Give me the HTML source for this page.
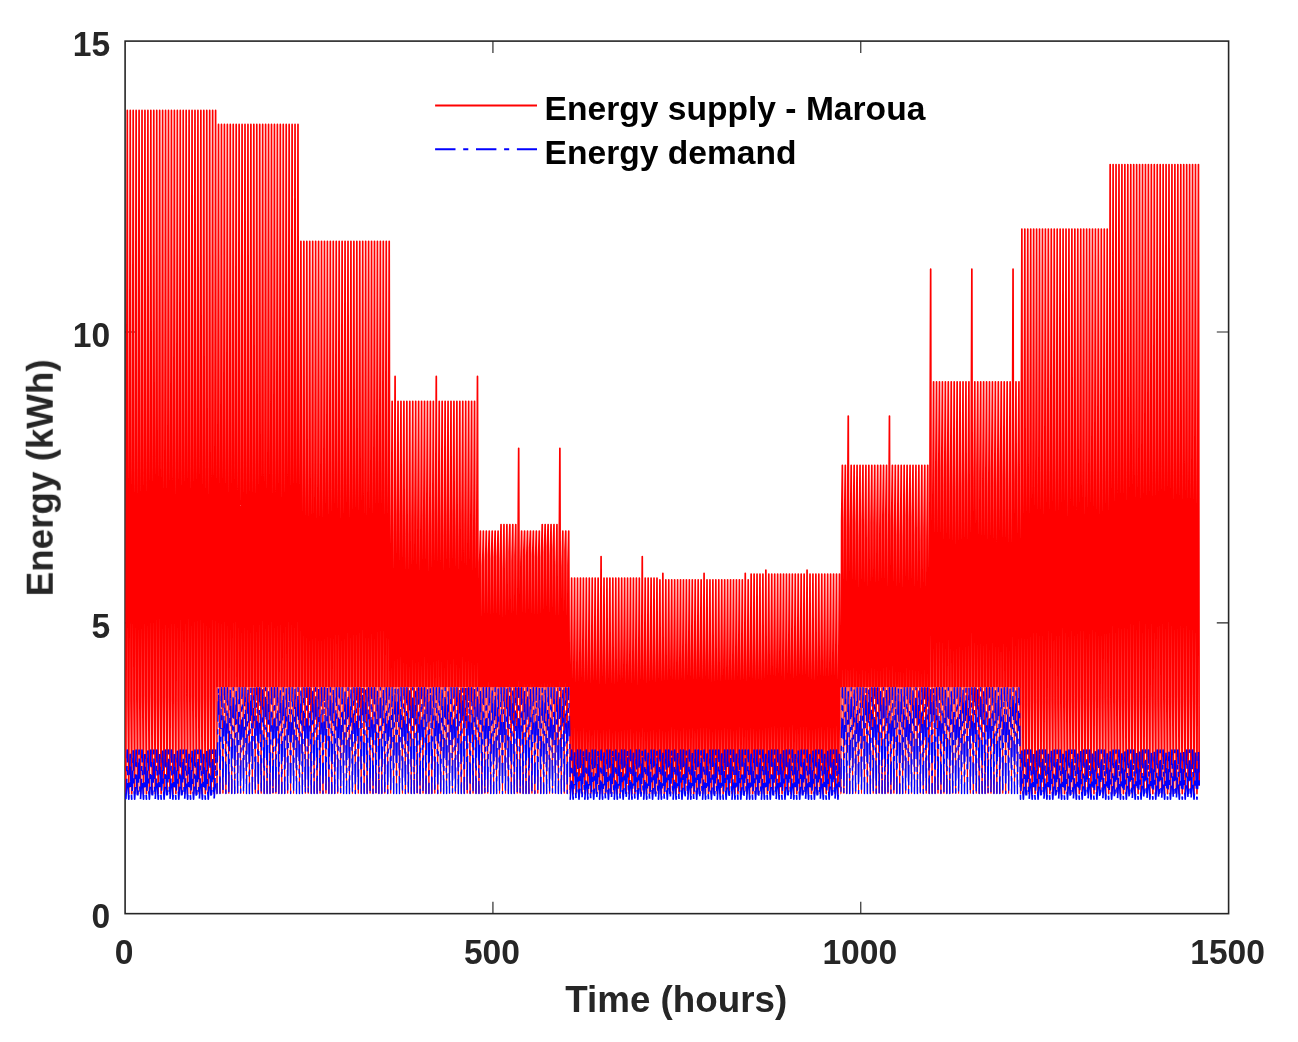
<!DOCTYPE html>
<html lang="en"><head><meta charset="utf-8"><title>Energy supply vs demand - Maroua</title>
<style>html,body{margin:0;padding:0;background:#fff}svg{display:block}.t{font-family:"Liberation Sans",sans-serif;font-weight:bold}</style></head>
<body>
<svg width="1298" height="1042" viewBox="0 0 1298 1042">
<rect width="1298" height="1042" fill="#fff"/>
<rect x="125.10" y="41.10" width="1103.50" height="872.55" fill="none" stroke="#262626" stroke-width="1.6"/>
<path d="M492.93 913.65v-11.8 M492.93 41.10v11.8" stroke="#262626" stroke-width="1.15"/>
<path d="M860.77 913.65v-11.8 M860.77 41.10v11.8" stroke="#262626" stroke-width="1.15"/>
<path d="M125.10 622.80h11.8 M1228.60 622.80h-11.8" stroke="#262626" stroke-width="1.15"/>
<path d="M125.10 331.95h11.8 M1228.60 331.95h-11.8" stroke="#262626" stroke-width="1.15"/>
<defs><clipPath id="ca"><rect x="0.00" y="0" width="216.69" height="1042"/><rect x="216.69" y="0" width="82.39" height="687.60"/><rect x="299.09" y="0" width="91.22" height="687.60"/><rect x="390.31" y="0" width="88.28" height="687.60"/><rect x="478.59" y="0" width="91.22" height="687.60"/><rect x="569.81" y="0" width="88.28" height="1042"/><rect x="658.09" y="0" width="91.22" height="1042"/><rect x="749.31" y="0" width="91.22" height="1042"/><rect x="840.54" y="0" width="88.28" height="687.60"/><rect x="928.82" y="0" width="91.22" height="687.60"/><rect x="1020.04" y="0" width="88.28" height="1042"/><rect x="1108.32" y="0" width="189.68" height="1042"/></clipPath><clipPath id="cb"><rect x="216.69" y="687.60" width="82.39" height="354.40"/><rect x="299.09" y="687.60" width="91.22" height="354.40"/><rect x="390.31" y="687.60" width="88.28" height="354.40"/><rect x="478.59" y="687.60" width="91.22" height="354.40"/><rect x="840.54" y="687.60" width="88.28" height="354.40"/><rect x="928.82" y="687.60" width="91.22" height="354.40"/></clipPath><clipPath id="cl"><rect x="0.00" y="0" width="216.69" height="1042"/><rect x="569.81" y="0" width="88.28" height="1042"/><rect x="658.09" y="0" width="91.22" height="1042"/><rect x="749.31" y="0" width="91.22" height="1042"/><rect x="1020.04" y="0" width="88.28" height="1042"/><rect x="1108.32" y="0" width="189.68" height="1042"/></clipPath><clipPath id="ch"><rect x="216.69" y="0" width="82.39" height="1042"/><rect x="299.09" y="0" width="91.22" height="1042"/><rect x="390.31" y="0" width="88.28" height="1042"/><rect x="478.59" y="0" width="91.22" height="1042"/><rect x="840.54" y="0" width="88.28" height="1042"/><rect x="928.82" y="0" width="91.22" height="1042"/></clipPath>
<polyline id="rl" fill="none" stroke-linejoin="round" points="125.84,793.53 126.57,477.75 127.31,110.44 128.04,702.25 128.78,793.53 129.51,467.24 130.25,110.44 130.99,702.99 131.72,793.53 132.46,470.93 133.19,110.44 133.93,700.21 134.66,793.53 135.40,486.29 136.13,110.44 136.87,698.87 137.61,793.53 138.34,486.95 139.08,110.44 139.81,699.57 140.55,793.53 141.28,485.91 142.02,110.44 142.76,702.82 143.49,793.53 144.23,474.51 144.96,110.44 145.70,695.85 146.43,793.53 147.17,484.18 147.91,110.44 148.64,701.56 149.38,793.53 150.11,467.99 150.85,110.44 151.58,694.71 152.32,793.53 153.06,469.61 153.79,110.44 154.53,699.92 155.26,793.53 156.00,456.78 156.73,110.44 157.47,703.23 158.20,793.53 158.94,460.56 159.68,110.44 160.41,700.93 161.15,793.53 161.88,483.52 162.62,110.44 163.35,702.56 164.09,793.53 164.83,478.24 165.56,110.44 166.30,695.95 167.03,793.53 167.77,482.35 168.50,110.44 169.24,698.17 169.98,793.53 170.71,467.62 171.45,110.44 172.18,700.15 172.92,793.53 173.65,470.55 174.39,110.44 175.13,703.08 175.86,793.53 176.60,486.24 177.33,110.44 178.07,701.73 178.80,793.53 179.54,466.29 180.28,110.44 181.01,699.63 181.75,793.53 182.48,478.06 183.22,110.44 183.95,698.14 184.69,793.53 185.42,473.59 186.16,110.44 186.90,700.84 187.63,793.53 188.37,462.62 189.10,110.44 189.84,697.06 190.57,793.53 191.31,480.31 192.05,110.44 192.78,698.24 193.52,793.53 194.25,471.28 194.99,110.44 195.72,695.40 196.46,793.53 197.20,464.71 197.93,110.44 198.67,700.95 199.40,793.53 200.14,456.65 200.87,110.44 201.61,702.56 202.34,793.53 203.08,474.72 203.82,110.44 204.55,696.51 205.29,793.53 206.02,483.27 206.76,110.44 207.49,699.05 208.23,793.53 208.97,486.90 209.70,110.44 210.44,697.35 211.17,793.53 211.91,463.58 212.64,110.44 213.38,698.25 214.12,793.53 214.85,460.02 215.59,110.44 216.32,700.71 217.06,793.53 217.79,468.65 218.53,124.40 219.27,698.76 220.00,793.53 220.74,472.33 221.47,124.40 222.21,700.05 222.94,793.53 223.68,464.04 224.41,124.40 225.15,695.47 225.89,793.53 226.62,475.70 227.36,124.40 228.09,698.10 228.83,793.53 229.56,488.87 230.30,124.40 231.04,697.75 231.77,793.53 232.51,470.19 233.24,124.40 233.98,695.01 234.71,793.53 235.45,464.62 236.19,124.40 236.92,701.66 237.66,793.53 238.39,478.51 239.13,124.40 239.86,698.06 240.60,793.53 241.34,490.09 242.07,124.40 242.81,700.00 243.54,793.53 244.28,485.45 245.01,124.40 245.75,703.24 246.49,793.53 247.22,488.93 247.96,124.40 248.69,697.12 249.43,793.53 250.16,486.69 250.90,124.40 251.63,702.01 252.37,793.53 253.11,478.35 253.84,124.40 254.58,696.16 255.31,793.53 256.05,488.24 256.78,124.40 257.52,700.12 258.26,793.53 258.99,473.30 259.73,124.40 260.46,696.04 261.20,793.53 261.93,464.70 262.67,124.40 263.41,696.23 264.14,793.53 264.88,481.94 265.61,124.40 266.35,700.44 267.08,793.53 267.82,479.37 268.56,124.40 269.29,696.04 270.03,793.53 270.76,460.29 271.50,124.40 272.23,702.92 272.97,793.53 273.70,485.19 274.44,124.40 275.18,702.16 275.91,793.53 276.65,483.37 277.38,124.40 278.12,699.78 278.85,793.53 279.59,472.03 280.33,124.40 281.06,701.87 281.80,793.53 282.53,490.68 283.27,124.40 284.00,700.40 284.74,793.53 285.48,479.04 286.21,124.40 286.95,699.02 287.68,793.53 288.42,460.44 289.15,124.40 289.89,697.85 290.62,793.53 291.36,474.38 292.10,124.40 292.83,698.54 293.57,793.53 294.30,469.26 295.04,124.40 295.77,703.83 296.51,793.53 297.25,462.14 297.98,124.40 298.72,697.01 299.45,793.53 300.19,473.18 300.92,241.32 301.66,699.24 302.40,793.53 303.13,488.06 303.87,241.32 304.60,702.89 305.34,793.53 306.07,496.98 306.81,241.32 307.55,700.74 308.28,793.53 309.02,498.26 309.75,241.32 310.49,705.93 311.22,793.53 311.96,493.73 312.69,241.32 313.43,705.06 314.17,793.53 314.90,489.68 315.64,241.32 316.37,706.07 317.11,793.53 317.84,500.17 318.58,241.32 319.32,705.16 320.05,793.53 320.79,497.05 321.52,241.32 322.26,703.22 322.99,793.53 323.73,499.39 324.47,241.32 325.20,698.54 325.94,793.53 326.67,481.22 327.41,241.32 328.14,705.19 328.88,793.53 329.62,492.39 330.35,241.32 331.09,703.37 331.82,793.53 332.56,488.94 333.29,241.32 334.03,705.42 334.76,793.53 335.50,473.97 336.24,241.32 336.97,697.45 337.71,793.53 338.44,485.79 339.18,241.32 339.91,702.12 340.65,793.53 341.39,497.53 342.12,241.32 342.86,705.61 343.59,793.53 344.33,489.60 345.06,241.32 345.80,704.12 346.54,793.53 347.27,474.59 348.01,241.32 348.74,705.07 349.48,793.53 350.21,499.47 350.95,241.32 351.69,697.84 352.42,793.53 353.16,483.87 353.89,241.32 354.63,705.21 355.36,793.53 356.10,483.41 356.84,241.32 357.57,706.30 358.31,793.53 359.04,483.87 359.78,241.32 360.51,697.59 361.25,793.53 361.98,473.52 362.72,241.32 363.46,700.17 364.19,793.53 364.93,492.12 365.66,241.32 366.40,703.19 367.13,793.53 367.87,495.02 368.61,241.32 369.34,699.48 370.08,793.53 370.81,483.73 371.55,241.32 372.28,699.41 373.02,793.53 373.76,490.00 374.49,241.32 375.23,704.51 375.96,793.53 376.70,475.12 377.43,241.32 378.17,697.53 378.90,793.53 379.64,473.85 380.38,241.32 381.11,699.17 381.85,793.53 382.58,474.91 383.32,241.32 384.05,699.77 384.79,793.53 385.53,493.18 386.26,241.32 387.00,701.81 387.73,793.53 388.47,489.20 389.20,241.32 389.94,706.28 390.68,793.53 391.41,539.73 392.15,401.29 392.88,717.64 393.62,793.53 394.35,533.57 395.09,376.45 395.83,714.44 396.56,793.53 397.30,515.00 398.03,401.29 398.77,716.34 399.50,793.53 400.24,515.52 400.98,401.29 401.71,712.14 402.45,793.53 403.18,515.04 403.92,401.29 404.65,716.98 405.39,793.53 406.12,534.60 406.86,401.29 407.60,718.05 408.33,793.53 409.07,535.24 409.80,401.29 410.54,718.22 411.27,793.53 412.01,523.85 412.75,401.29 413.48,712.82 414.22,793.53 414.95,518.09 415.69,401.29 416.42,716.09 417.16,793.53 417.90,523.08 418.63,401.29 419.37,713.60 420.10,793.53 420.84,538.22 421.57,401.29 422.31,714.68 423.04,793.53 423.78,516.24 424.52,401.29 425.25,713.74 425.99,793.53 426.72,520.49 427.46,401.29 428.19,716.10 428.93,793.53 429.67,535.72 430.40,401.29 431.14,713.69 431.87,793.53 432.61,531.62 433.34,401.29 434.08,713.60 434.82,793.53 435.55,514.59 436.29,376.45 437.02,716.74 437.76,793.53 438.49,529.78 439.23,401.29 439.97,712.46 440.70,793.53 441.44,521.17 442.17,401.29 442.91,718.49 443.64,793.53 444.38,537.09 445.12,401.29 445.85,718.64 446.59,793.53 447.32,516.37 448.06,401.29 448.79,713.55 449.53,793.53 450.26,536.58 451.00,401.29 451.74,713.40 452.47,793.53 453.21,514.36 453.94,401.29 454.68,714.71 455.41,793.53 456.15,531.14 456.89,401.29 457.62,715.55 458.36,793.53 459.09,536.99 459.83,401.29 460.56,719.70 461.30,793.53 462.04,514.61 462.77,401.29 463.51,714.77 464.24,793.53 464.98,526.45 465.71,401.29 466.45,712.57 467.19,793.53 467.92,528.92 468.66,401.29 469.39,713.05 470.13,793.53 470.86,518.47 471.60,401.29 472.33,718.17 473.07,793.53 473.81,533.77 474.54,401.29 475.28,717.54 476.01,793.53 476.75,534.07 477.48,376.45 478.22,715.26 478.96,793.53 479.69,562.95 480.43,531.01 481.16,724.64 481.90,793.53 482.63,565.98 483.37,531.01 484.11,721.23 484.84,793.53 485.58,560.71 486.31,531.01 487.05,724.36 487.78,793.53 488.52,555.29 489.25,531.01 489.99,721.27 490.73,793.53 491.46,559.14 492.20,531.01 492.93,721.17 493.67,793.53 494.40,557.22 495.14,531.01 495.88,723.85 496.61,793.53 497.35,556.70 498.08,531.01 498.82,727.42 499.55,793.53 500.29,558.67 501.03,524.49 501.76,726.27 502.50,793.53 503.23,568.98 503.97,524.49 504.70,722.00 505.44,793.53 506.18,565.00 506.91,524.49 507.65,724.26 508.38,793.53 509.12,551.94 509.85,524.49 510.59,723.68 511.33,793.53 512.06,561.37 512.80,524.49 513.53,723.95 514.27,793.53 515.00,555.95 515.74,524.49 516.47,722.10 517.21,793.53 517.95,566.57 518.68,448.29 519.42,723.66 520.15,793.53 520.89,563.20 521.62,531.01 522.36,725.62 523.10,793.53 523.83,550.83 524.57,531.01 525.30,724.02 526.04,793.53 526.77,555.80 527.51,531.01 528.25,722.27 528.98,793.53 529.72,547.51 530.45,531.01 531.19,724.47 531.92,793.53 532.66,554.60 533.39,531.01 534.13,724.04 534.87,793.53 535.60,556.97 536.34,531.01 537.07,722.74 537.81,793.53 538.54,558.39 539.28,531.01 540.02,723.84 540.75,793.53 541.49,557.78 542.22,524.49 542.96,721.01 543.69,793.53 544.43,552.55 545.17,524.49 545.90,721.46 546.64,793.53 547.37,546.81 548.11,524.49 548.84,725.74 549.58,793.53 550.32,555.85 551.05,524.49 551.79,721.00 552.52,793.53 553.26,549.23 553.99,524.49 554.73,726.59 555.47,793.53 556.20,566.20 556.94,524.49 557.67,724.48 558.41,793.53 559.14,567.36 559.88,448.29 560.61,725.88 561.35,793.53 562.09,567.35 562.82,531.01 563.56,722.90 564.29,793.53 565.03,550.55 565.76,531.01 566.50,721.32 567.24,793.53 567.97,565.42 568.71,531.01 569.44,722.57 570.18,793.53 570.91,667.01 571.65,578.13 572.39,757.97 573.12,793.53 573.86,664.24 574.59,578.13 575.33,754.92 576.06,793.53 576.80,672.50 577.53,578.13 578.27,754.98 579.01,793.53 579.74,670.28 580.48,578.13 581.21,756.70 581.95,793.53 582.68,662.91 583.42,578.13 584.16,755.42 584.89,793.53 585.63,673.22 586.36,578.13 587.10,756.90 587.83,793.53 588.57,668.81 589.31,578.13 590.04,757.24 590.78,793.53 591.51,672.80 592.25,578.13 592.98,757.32 593.72,793.53 594.46,666.24 595.19,578.13 595.93,758.42 596.66,793.53 597.40,668.34 598.13,578.13 598.87,756.87 599.61,793.53 600.34,675.01 601.08,556.49 601.81,757.27 602.55,793.53 603.28,667.47 604.02,578.13 604.75,756.60 605.49,793.53 606.23,674.43 606.96,578.13 607.70,754.86 608.43,793.53 609.17,665.42 609.90,578.13 610.64,754.91 611.38,793.53 612.11,673.93 612.85,578.13 613.58,757.51 614.32,793.53 615.05,674.74 615.79,578.13 616.53,755.62 617.26,793.53 618.00,671.87 618.73,578.13 619.47,758.02 620.20,793.53 620.94,669.98 621.67,578.13 622.41,755.13 623.15,793.53 623.88,665.04 624.62,578.13 625.35,757.54 626.09,793.53 626.82,673.37 627.56,578.13 628.30,755.10 629.03,793.53 629.77,668.13 630.50,578.13 631.24,755.91 631.97,793.53 632.71,674.12 633.45,578.13 634.18,758.28 634.92,793.53 635.65,666.67 636.39,578.13 637.12,756.92 637.86,793.53 638.60,674.33 639.33,578.13 640.07,755.03 640.80,793.53 641.54,667.33 642.27,556.49 643.01,755.54 643.75,793.53 644.48,674.19 645.22,578.13 645.95,755.34 646.69,793.53 647.42,674.41 648.16,578.13 648.89,755.31 649.63,793.53 650.37,669.58 651.10,578.13 651.84,757.24 652.57,793.53 653.31,668.35 654.04,578.13 654.78,755.08 655.52,793.53 656.25,671.90 656.99,578.13 657.72,758.02 658.46,793.53 659.19,664.40 659.93,579.87 660.67,756.48 661.40,793.53 662.14,669.78 662.87,573.36 663.61,756.77 664.34,793.53 665.08,670.54 665.82,579.87 666.55,756.62 667.29,793.53 668.02,667.17 668.76,579.87 669.49,756.23 670.23,793.53 670.96,661.41 671.70,579.87 672.44,756.28 673.17,793.53 673.91,664.75 674.64,579.87 675.38,756.71 676.11,793.53 676.85,666.72 677.59,579.87 678.32,757.32 679.06,793.53 679.79,667.96 680.53,579.87 681.26,757.33 682.00,793.53 682.74,661.75 683.47,579.87 684.21,755.29 684.94,793.53 685.68,668.75 686.41,579.87 687.15,755.58 687.88,793.53 688.62,659.15 689.36,579.87 690.09,756.98 690.83,793.53 691.56,660.64 692.30,579.87 693.03,755.74 693.77,793.53 694.51,664.82 695.24,579.87 695.98,754.21 696.71,793.53 697.45,666.13 698.18,579.87 698.92,755.46 699.66,793.53 700.39,662.33 701.13,579.87 701.86,753.65 702.60,793.53 703.33,666.78 704.07,573.36 704.81,754.22 705.54,793.53 706.28,662.09 707.01,579.87 707.75,754.97 708.48,793.53 709.22,665.98 709.96,579.87 710.69,756.07 711.43,793.53 712.16,670.49 712.90,579.87 713.63,756.89 714.37,793.53 715.10,670.28 715.84,579.87 716.58,754.57 717.31,793.53 718.05,667.90 718.78,579.87 719.52,756.77 720.25,793.53 720.99,670.10 721.73,579.87 722.46,754.19 723.20,793.53 723.93,659.98 724.67,579.87 725.40,754.84 726.14,793.53 726.88,667.56 727.61,579.87 728.35,756.47 729.08,793.53 729.82,667.42 730.55,579.87 731.29,755.64 732.03,793.53 732.76,669.16 733.50,579.87 734.23,755.69 734.97,793.53 735.70,667.80 736.44,579.87 737.17,753.73 737.91,793.53 738.65,658.66 739.38,579.87 740.12,755.31 740.85,793.53 741.59,668.04 742.32,579.87 743.06,753.71 743.80,793.53 744.53,667.20 745.27,573.36 746.00,756.03 746.74,793.53 747.47,671.18 748.21,579.87 748.95,755.94 749.68,793.53 750.42,663.65 751.15,574.05 751.89,755.01 752.62,793.53 753.36,667.21 754.10,574.05 754.83,755.00 755.57,793.53 756.30,669.77 757.04,574.05 757.77,755.93 758.51,793.53 759.24,668.66 759.98,574.05 760.72,755.41 761.45,793.53 762.19,669.29 762.92,574.05 763.66,756.86 764.39,793.53 765.13,665.87 765.87,570.16 766.60,756.05 767.34,793.53 768.07,662.21 768.81,574.05 769.54,754.91 770.28,793.53 771.02,660.06 771.75,574.05 772.49,754.41 773.22,793.53 773.96,660.51 774.69,574.05 775.43,753.56 776.17,793.53 776.90,664.76 777.64,574.05 778.37,755.69 779.11,793.53 779.84,657.01 780.58,574.05 781.31,756.37 782.05,793.53 782.79,660.40 783.52,574.05 784.26,754.47 784.99,793.53 785.73,669.26 786.46,574.05 787.20,753.73 787.94,793.53 788.67,658.22 789.41,574.05 790.14,754.53 790.88,793.53 791.61,660.28 792.35,574.05 793.09,753.82 793.82,793.53 794.56,668.02 795.29,574.05 796.03,754.93 796.76,793.53 797.50,663.26 798.24,574.05 798.97,753.73 799.71,793.53 800.44,659.35 801.18,574.05 801.91,753.76 802.65,793.53 803.38,662.23 804.12,574.05 804.86,753.51 805.59,793.53 806.33,660.94 807.06,570.16 807.80,754.28 808.53,793.53 809.27,666.84 810.01,574.05 810.74,756.83 811.48,793.53 812.21,668.10 812.95,574.05 813.68,755.56 814.42,793.53 815.16,668.47 815.89,574.05 816.63,753.73 817.36,793.53 818.10,662.56 818.83,574.05 819.57,754.53 820.31,793.53 821.04,661.68 821.78,574.05 822.51,754.32 823.25,793.53 823.98,663.46 824.72,574.05 825.45,756.93 826.19,793.53 826.93,659.45 827.66,574.05 828.40,754.06 829.13,793.53 829.87,663.28 830.60,574.05 831.34,754.88 832.08,793.53 832.81,661.25 833.55,574.05 834.28,756.69 835.02,793.53 835.75,660.24 836.49,574.05 837.23,755.97 837.96,793.53 838.70,668.86 839.43,574.05 840.17,755.92 840.90,793.53 841.64,521.67 842.38,465.28 843.11,721.15 843.85,793.53 844.58,521.39 845.32,465.28 846.05,715.41 846.79,793.53 847.52,527.92 848.26,416.01 849.00,719.83 849.73,793.53 850.47,528.32 851.20,465.28 851.94,717.59 852.67,793.53 853.41,520.67 854.15,465.28 854.88,718.08 855.62,793.53 856.35,523.97 857.09,465.28 857.82,722.11 858.56,793.53 859.30,537.13 860.03,465.28 860.77,720.79 861.50,793.53 862.24,521.30 862.97,465.28 863.71,720.41 864.45,793.53 865.18,525.96 865.92,465.28 866.65,722.59 867.39,793.53 868.12,539.44 868.86,465.28 869.59,720.68 870.33,793.53 871.07,523.19 871.80,465.28 872.54,717.52 873.27,793.53 874.01,523.09 874.74,465.28 875.48,720.51 876.22,793.53 876.95,527.32 877.69,465.28 878.42,719.22 879.16,793.53 879.89,528.66 880.63,465.28 881.37,721.80 882.10,793.53 882.84,517.30 883.57,465.28 884.31,721.20 885.04,793.53 885.78,515.06 886.52,465.28 887.25,715.70 887.99,793.53 888.72,540.59 889.46,416.01 890.19,719.26 890.93,793.53 891.66,519.26 892.40,465.28 893.14,715.46 893.87,793.53 894.61,529.11 895.34,465.28 896.08,720.68 896.81,793.53 897.55,535.47 898.29,465.28 899.02,715.63 899.76,793.53 900.49,535.45 901.23,465.28 901.96,718.35 902.70,793.53 903.44,537.28 904.17,465.28 904.91,718.78 905.64,793.53 906.38,515.73 907.11,465.28 907.85,721.69 908.59,793.53 909.32,519.25 910.06,465.28 910.79,718.89 911.53,793.53 912.26,517.48 913.00,465.28 913.73,717.44 914.47,793.53 915.21,534.90 915.94,465.28 916.68,715.99 917.41,793.53 918.15,528.13 918.88,465.28 919.62,722.50 920.36,793.53 921.09,540.95 921.83,465.28 922.56,719.02 923.30,793.53 924.03,529.07 924.77,465.28 925.51,720.43 926.24,793.53 926.98,537.31 927.71,465.28 928.45,720.12 929.18,793.53 929.92,488.27 930.66,269.13 931.39,701.74 932.13,793.53 932.86,498.05 933.60,381.80 934.33,702.54 935.07,793.53 935.80,472.01 936.54,381.80 937.28,708.13 938.01,793.53 938.75,469.29 939.48,381.80 940.22,702.87 940.95,793.53 941.69,470.06 942.43,381.80 943.16,706.63 943.90,793.53 944.63,486.53 945.37,381.80 946.10,705.71 946.84,793.53 947.58,467.04 948.31,381.80 949.05,703.97 949.78,793.53 950.52,486.88 951.25,381.80 951.99,705.40 952.73,793.53 953.46,489.54 954.20,381.80 954.93,708.77 955.67,793.53 956.40,494.94 957.14,381.80 957.87,701.79 958.61,793.53 959.35,489.22 960.08,381.80 960.82,700.89 961.55,793.53 962.29,490.35 963.02,381.80 963.76,706.84 964.50,793.53 965.23,482.21 965.97,381.80 966.70,707.51 967.44,793.53 968.17,486.49 968.91,381.80 969.65,700.71 970.38,793.53 971.12,470.60 971.85,269.13 972.59,701.99 973.32,793.53 974.06,478.48 974.80,381.80 975.53,701.09 976.27,793.53 977.00,468.85 977.74,381.80 978.47,704.32 979.21,793.53 979.94,475.72 980.68,381.80 981.42,708.76 982.15,793.53 982.89,475.33 983.62,381.80 984.36,705.20 985.09,793.53 985.83,474.69 986.57,381.80 987.30,703.48 988.04,793.53 988.77,489.20 989.51,381.80 990.24,708.77 990.98,793.53 991.72,469.28 992.45,381.80 993.19,708.07 993.92,793.53 994.66,483.42 995.39,381.80 996.13,706.15 996.87,793.53 997.60,488.84 998.34,381.80 999.07,702.64 999.81,793.53 1000.54,467.74 1001.28,381.80 1002.01,706.89 1002.75,793.53 1003.49,477.70 1004.22,381.80 1004.96,706.53 1005.69,793.53 1006.43,480.77 1007.16,381.80 1007.90,705.70 1008.64,793.53 1009.37,492.90 1010.11,381.80 1010.84,707.76 1011.58,793.53 1012.31,491.64 1013.05,269.13 1013.79,701.16 1014.52,793.53 1015.26,482.64 1015.99,381.80 1016.73,707.25 1017.46,793.53 1018.20,469.92 1018.94,381.80 1019.67,700.35 1020.41,793.53 1021.14,486.38 1021.88,229.11 1022.61,705.27 1023.35,793.53 1024.08,494.33 1024.82,229.11 1025.56,705.72 1026.29,793.53 1027.03,489.72 1027.76,229.11 1028.50,705.71 1029.23,793.53 1029.97,492.89 1030.71,229.11 1031.44,704.18 1032.18,793.53 1032.91,482.69 1033.65,229.11 1034.38,698.42 1035.12,793.53 1035.86,477.13 1036.59,229.11 1037.33,702.77 1038.06,793.53 1038.80,487.49 1039.53,229.11 1040.27,701.75 1041.01,793.53 1041.74,488.64 1042.48,229.11 1043.21,703.45 1043.95,793.53 1044.68,498.36 1045.42,229.11 1046.15,704.01 1046.89,793.53 1047.63,470.40 1048.36,229.11 1049.10,705.39 1049.83,793.53 1050.57,484.73 1051.30,229.11 1052.04,700.78 1052.78,793.53 1053.51,473.64 1054.25,229.11 1054.98,704.57 1055.72,793.53 1056.45,491.90 1057.19,229.11 1057.93,704.27 1058.66,793.53 1059.40,487.93 1060.13,229.11 1060.87,702.47 1061.60,793.53 1062.34,470.82 1063.08,229.11 1063.81,698.78 1064.55,793.53 1065.28,473.33 1066.02,229.11 1066.75,706.35 1067.49,793.53 1068.22,499.28 1068.96,229.11 1069.70,700.05 1070.43,793.53 1071.17,472.62 1071.90,229.11 1072.64,702.21 1073.37,793.53 1074.11,482.15 1074.85,229.11 1075.58,706.55 1076.32,793.53 1077.05,488.19 1077.79,229.11 1078.52,698.06 1079.26,793.53 1080.00,474.79 1080.73,229.11 1081.47,698.71 1082.20,793.53 1082.94,470.26 1083.67,229.11 1084.41,704.27 1085.14,793.53 1085.88,496.90 1086.62,229.11 1087.35,705.13 1088.09,793.53 1088.82,484.15 1089.56,229.11 1090.29,700.30 1091.03,793.53 1091.77,471.21 1092.50,229.11 1093.24,699.94 1093.97,793.53 1094.71,480.29 1095.44,229.11 1096.18,699.54 1096.92,793.53 1097.65,486.15 1098.39,229.11 1099.12,701.50 1099.86,793.53 1100.59,499.05 1101.33,229.11 1102.07,699.38 1102.80,793.53 1103.54,493.09 1104.27,229.11 1105.01,698.12 1105.74,793.53 1106.48,480.34 1107.21,229.11 1107.95,703.77 1108.69,793.53 1109.42,488.14 1110.16,164.54 1110.89,701.97 1111.63,793.53 1112.36,472.02 1113.10,164.54 1113.84,697.78 1114.57,793.53 1115.31,488.64 1116.04,164.54 1116.78,703.68 1117.51,793.53 1118.25,475.56 1118.99,164.54 1119.72,698.86 1120.46,793.53 1121.19,479.89 1121.93,164.54 1122.66,702.24 1123.40,793.53 1124.14,473.13 1124.87,164.54 1125.61,704.24 1126.34,793.53 1127.08,482.63 1127.81,164.54 1128.55,700.01 1129.29,793.53 1130.02,461.78 1130.76,164.54 1131.49,698.29 1132.23,793.53 1132.96,464.17 1133.70,164.54 1134.43,699.87 1135.17,793.53 1135.91,484.75 1136.64,164.54 1137.38,702.02 1138.11,793.53 1138.85,461.73 1139.58,164.54 1140.32,697.72 1141.06,793.53 1141.79,482.45 1142.53,164.54 1143.26,704.13 1144.00,793.53 1144.73,476.39 1145.47,164.54 1146.21,698.00 1146.94,793.53 1147.68,478.88 1148.41,164.54 1149.15,701.92 1149.88,793.53 1150.62,471.03 1151.36,164.54 1152.09,695.65 1152.83,793.53 1153.56,485.00 1154.30,164.54 1155.03,704.02 1155.77,793.53 1156.50,481.48 1157.24,164.54 1157.98,700.39 1158.71,793.53 1159.45,470.55 1160.18,164.54 1160.92,702.48 1161.65,793.53 1162.39,466.92 1163.13,164.54 1163.86,697.40 1164.60,793.53 1165.33,476.18 1166.07,164.54 1166.80,702.41 1167.54,793.53 1168.28,461.43 1169.01,164.54 1169.75,701.41 1170.48,793.53 1171.22,466.19 1171.95,164.54 1172.69,702.17 1173.42,793.53 1174.16,485.17 1174.90,164.54 1175.63,697.20 1176.37,793.53 1177.10,482.84 1177.84,164.54 1178.57,695.40 1179.31,793.53 1180.05,476.47 1180.78,164.54 1181.52,702.58 1182.25,793.53 1182.99,485.11 1183.72,164.54 1184.46,700.42 1185.20,793.53 1185.93,471.10 1186.67,164.54 1187.40,695.43 1188.14,793.53 1188.87,487.55 1189.61,164.54 1190.35,700.64 1191.08,793.53 1191.82,485.44 1192.55,164.54 1193.29,695.19 1194.02,793.53 1194.76,487.70 1195.49,164.54 1196.23,703.85 1196.97,793.53 1197.70,490.29 1198.44,164.54 1199.17,785.68"/>
<polyline id="bl" fill="none" stroke-linejoin="round" stroke-dasharray="20.4 7.7 5.1 7.7" points="125.84,799.23 126.57,785.68 127.31,750.19 128.04,785.68 128.78,799.23 129.51,785.68 130.25,750.19 130.99,785.68 131.72,799.23 132.46,785.68 133.19,750.19 133.93,785.68 134.66,799.23 135.40,785.68 136.13,750.19 136.87,785.68 137.61,799.23 138.34,785.68 139.08,750.19 139.81,785.68 140.55,799.23 141.28,785.68 142.02,750.19 142.76,785.68 143.49,799.23 144.23,785.68 144.96,750.19 145.70,785.68 146.43,799.23 147.17,785.68 147.91,750.19 148.64,785.68 149.38,799.23 150.11,785.68 150.85,750.19 151.58,785.68 152.32,799.23 153.06,785.68 153.79,750.19 154.53,785.68 155.26,799.23 156.00,785.68 156.73,750.19 157.47,785.68 158.20,799.23 158.94,785.68 159.68,750.19 160.41,785.68 161.15,799.23 161.88,785.68 162.62,750.19 163.35,785.68 164.09,799.23 164.83,785.68 165.56,750.19 166.30,785.68 167.03,799.23 167.77,785.68 168.50,750.19 169.24,785.68 169.98,799.23 170.71,785.68 171.45,750.19 172.18,785.68 172.92,799.23 173.65,785.68 174.39,750.19 175.13,785.68 175.86,799.23 176.60,785.68 177.33,750.19 178.07,785.68 178.80,799.23 179.54,785.68 180.28,750.19 181.01,785.68 181.75,799.23 182.48,785.68 183.22,750.19 183.95,785.68 184.69,799.23 185.42,785.68 186.16,750.19 186.90,785.68 187.63,799.23 188.37,785.68 189.10,750.19 189.84,785.68 190.57,799.23 191.31,785.68 192.05,750.19 192.78,785.68 193.52,799.23 194.25,785.68 194.99,750.19 195.72,785.68 196.46,799.23 197.20,785.68 197.93,750.19 198.67,785.68 199.40,799.23 200.14,785.68 200.87,750.19 201.61,785.68 202.34,799.23 203.08,785.68 203.82,750.19 204.55,785.68 205.29,799.23 206.02,785.68 206.76,750.19 207.49,785.68 208.23,799.23 208.97,785.68 209.70,750.19 210.44,785.68 211.17,799.23 211.91,785.68 212.64,750.19 213.38,785.68 214.12,799.23 214.85,785.68 215.59,750.19 216.32,785.68 217.06,793.53 217.79,730.41 218.53,687.60 219.27,730.41 220.00,793.53 220.74,730.41 221.47,687.60 222.21,730.41 222.94,793.53 223.68,730.41 224.41,687.60 225.15,730.41 225.89,793.53 226.62,730.41 227.36,687.60 228.09,730.41 228.83,793.53 229.56,730.41 230.30,687.60 231.04,730.41 231.77,793.53 232.51,730.41 233.24,687.60 233.98,730.41 234.71,793.53 235.45,730.41 236.19,687.60 236.92,730.41 237.66,793.53 238.39,730.41 239.13,687.60 239.86,730.41 240.60,793.53 241.34,730.41 242.07,687.60 242.81,730.41 243.54,793.53 244.28,730.41 245.01,687.60 245.75,730.41 246.49,793.53 247.22,730.41 247.96,687.60 248.69,730.41 249.43,793.53 250.16,730.41 250.90,687.60 251.63,730.41 252.37,793.53 253.11,730.41 253.84,687.60 254.58,730.41 255.31,793.53 256.05,730.41 256.78,687.60 257.52,730.41 258.26,793.53 258.99,730.41 259.73,687.60 260.46,730.41 261.20,793.53 261.93,730.41 262.67,687.60 263.41,730.41 264.14,793.53 264.88,730.41 265.61,687.60 266.35,730.41 267.08,793.53 267.82,730.41 268.56,687.60 269.29,730.41 270.03,793.53 270.76,730.41 271.50,687.60 272.23,730.41 272.97,793.53 273.70,730.41 274.44,687.60 275.18,730.41 275.91,793.53 276.65,730.41 277.38,687.60 278.12,730.41 278.85,793.53 279.59,730.41 280.33,687.60 281.06,730.41 281.80,793.53 282.53,730.41 283.27,687.60 284.00,730.41 284.74,793.53 285.48,730.41 286.21,687.60 286.95,730.41 287.68,793.53 288.42,730.41 289.15,687.60 289.89,730.41 290.62,793.53 291.36,730.41 292.10,687.60 292.83,730.41 293.57,793.53 294.30,730.41 295.04,687.60 295.77,730.41 296.51,793.53 297.25,730.41 297.98,687.60 298.72,730.41 299.45,793.53 300.19,730.41 300.92,687.60 301.66,730.41 302.40,793.53 303.13,730.41 303.87,687.60 304.60,730.41 305.34,793.53 306.07,730.41 306.81,687.60 307.55,730.41 308.28,793.53 309.02,730.41 309.75,687.60 310.49,730.41 311.22,793.53 311.96,730.41 312.69,687.60 313.43,730.41 314.17,793.53 314.90,730.41 315.64,687.60 316.37,730.41 317.11,793.53 317.84,730.41 318.58,687.60 319.32,730.41 320.05,793.53 320.79,730.41 321.52,687.60 322.26,730.41 322.99,793.53 323.73,730.41 324.47,687.60 325.20,730.41 325.94,793.53 326.67,730.41 327.41,687.60 328.14,730.41 328.88,793.53 329.62,730.41 330.35,687.60 331.09,730.41 331.82,793.53 332.56,730.41 333.29,687.60 334.03,730.41 334.76,793.53 335.50,730.41 336.24,687.60 336.97,730.41 337.71,793.53 338.44,730.41 339.18,687.60 339.91,730.41 340.65,793.53 341.39,730.41 342.12,687.60 342.86,730.41 343.59,793.53 344.33,730.41 345.06,687.60 345.80,730.41 346.54,793.53 347.27,730.41 348.01,687.60 348.74,730.41 349.48,793.53 350.21,730.41 350.95,687.60 351.69,730.41 352.42,793.53 353.16,730.41 353.89,687.60 354.63,730.41 355.36,793.53 356.10,730.41 356.84,687.60 357.57,730.41 358.31,793.53 359.04,730.41 359.78,687.60 360.51,730.41 361.25,793.53 361.98,730.41 362.72,687.60 363.46,730.41 364.19,793.53 364.93,730.41 365.66,687.60 366.40,730.41 367.13,793.53 367.87,730.41 368.61,687.60 369.34,730.41 370.08,793.53 370.81,730.41 371.55,687.60 372.28,730.41 373.02,793.53 373.76,730.41 374.49,687.60 375.23,730.41 375.96,793.53 376.70,730.41 377.43,687.60 378.17,730.41 378.90,793.53 379.64,730.41 380.38,687.60 381.11,730.41 381.85,793.53 382.58,730.41 383.32,687.60 384.05,730.41 384.79,793.53 385.53,730.41 386.26,687.60 387.00,730.41 387.73,793.53 388.47,730.41 389.20,687.60 389.94,730.41 390.68,793.53 391.41,730.41 392.15,687.60 392.88,730.41 393.62,793.53 394.35,730.41 395.09,687.60 395.83,730.41 396.56,793.53 397.30,730.41 398.03,687.60 398.77,730.41 399.50,793.53 400.24,730.41 400.98,687.60 401.71,730.41 402.45,793.53 403.18,730.41 403.92,687.60 404.65,730.41 405.39,793.53 406.12,730.41 406.86,687.60 407.60,730.41 408.33,793.53 409.07,730.41 409.80,687.60 410.54,730.41 411.27,793.53 412.01,730.41 412.75,687.60 413.48,730.41 414.22,793.53 414.95,730.41 415.69,687.60 416.42,730.41 417.16,793.53 417.90,730.41 418.63,687.60 419.37,730.41 420.10,793.53 420.84,730.41 421.57,687.60 422.31,730.41 423.04,793.53 423.78,730.41 424.52,687.60 425.25,730.41 425.99,793.53 426.72,730.41 427.46,687.60 428.19,730.41 428.93,793.53 429.67,730.41 430.40,687.60 431.14,730.41 431.87,793.53 432.61,730.41 433.34,687.60 434.08,730.41 434.82,793.53 435.55,730.41 436.29,687.60 437.02,730.41 437.76,793.53 438.49,730.41 439.23,687.60 439.97,730.41 440.70,793.53 441.44,730.41 442.17,687.60 442.91,730.41 443.64,793.53 444.38,730.41 445.12,687.60 445.85,730.41 446.59,793.53 447.32,730.41 448.06,687.60 448.79,730.41 449.53,793.53 450.26,730.41 451.00,687.60 451.74,730.41 452.47,793.53 453.21,730.41 453.94,687.60 454.68,730.41 455.41,793.53 456.15,730.41 456.89,687.60 457.62,730.41 458.36,793.53 459.09,730.41 459.83,687.60 460.56,730.41 461.30,793.53 462.04,730.41 462.77,687.60 463.51,730.41 464.24,793.53 464.98,730.41 465.71,687.60 466.45,730.41 467.19,793.53 467.92,730.41 468.66,687.60 469.39,730.41 470.13,793.53 470.86,730.41 471.60,687.60 472.33,730.41 473.07,793.53 473.81,730.41 474.54,687.60 475.28,730.41 476.01,793.53 476.75,730.41 477.48,687.60 478.22,730.41 478.96,793.53 479.69,730.41 480.43,687.60 481.16,730.41 481.90,793.53 482.63,730.41 483.37,687.60 484.11,730.41 484.84,793.53 485.58,730.41 486.31,687.60 487.05,730.41 487.78,793.53 488.52,730.41 489.25,687.60 489.99,730.41 490.73,793.53 491.46,730.41 492.20,687.60 492.93,730.41 493.67,793.53 494.40,730.41 495.14,687.60 495.88,730.41 496.61,793.53 497.35,730.41 498.08,687.60 498.82,730.41 499.55,793.53 500.29,730.41 501.03,687.60 501.76,730.41 502.50,793.53 503.23,730.41 503.97,687.60 504.70,730.41 505.44,793.53 506.18,730.41 506.91,687.60 507.65,730.41 508.38,793.53 509.12,730.41 509.85,687.60 510.59,730.41 511.33,793.53 512.06,730.41 512.80,687.60 513.53,730.41 514.27,793.53 515.00,730.41 515.74,687.60 516.47,730.41 517.21,793.53 517.95,730.41 518.68,687.60 519.42,730.41 520.15,793.53 520.89,730.41 521.62,687.60 522.36,730.41 523.10,793.53 523.83,730.41 524.57,687.60 525.30,730.41 526.04,793.53 526.77,730.41 527.51,687.60 528.25,730.41 528.98,793.53 529.72,730.41 530.45,687.60 531.19,730.41 531.92,793.53 532.66,730.41 533.39,687.60 534.13,730.41 534.87,793.53 535.60,730.41 536.34,687.60 537.07,730.41 537.81,793.53 538.54,730.41 539.28,687.60 540.02,730.41 540.75,793.53 541.49,730.41 542.22,687.60 542.96,730.41 543.69,793.53 544.43,730.41 545.17,687.60 545.90,730.41 546.64,793.53 547.37,730.41 548.11,687.60 548.84,730.41 549.58,793.53 550.32,730.41 551.05,687.60 551.79,730.41 552.52,793.53 553.26,730.41 553.99,687.60 554.73,730.41 555.47,793.53 556.20,730.41 556.94,687.60 557.67,730.41 558.41,793.53 559.14,730.41 559.88,687.60 560.61,730.41 561.35,793.53 562.09,730.41 562.82,687.60 563.56,730.41 564.29,793.53 565.03,730.41 565.76,687.60 566.50,730.41 567.24,793.53 567.97,730.41 568.71,687.60 569.44,730.41 570.18,799.23 570.91,785.68 571.65,750.19 572.39,785.68 573.12,799.23 573.86,785.68 574.59,750.19 575.33,785.68 576.06,799.23 576.80,785.68 577.53,750.19 578.27,785.68 579.01,799.23 579.74,785.68 580.48,750.19 581.21,785.68 581.95,799.23 582.68,785.68 583.42,750.19 584.16,785.68 584.89,799.23 585.63,785.68 586.36,750.19 587.10,785.68 587.83,799.23 588.57,785.68 589.31,750.19 590.04,785.68 590.78,799.23 591.51,785.68 592.25,750.19 592.98,785.68 593.72,799.23 594.46,785.68 595.19,750.19 595.93,785.68 596.66,799.23 597.40,785.68 598.13,750.19 598.87,785.68 599.61,799.23 600.34,785.68 601.08,750.19 601.81,785.68 602.55,799.23 603.28,785.68 604.02,750.19 604.75,785.68 605.49,799.23 606.23,785.68 606.96,750.19 607.70,785.68 608.43,799.23 609.17,785.68 609.90,750.19 610.64,785.68 611.38,799.23 612.11,785.68 612.85,750.19 613.58,785.68 614.32,799.23 615.05,785.68 615.79,750.19 616.53,785.68 617.26,799.23 618.00,785.68 618.73,750.19 619.47,785.68 620.20,799.23 620.94,785.68 621.67,750.19 622.41,785.68 623.15,799.23 623.88,785.68 624.62,750.19 625.35,785.68 626.09,799.23 626.82,785.68 627.56,750.19 628.30,785.68 629.03,799.23 629.77,785.68 630.50,750.19 631.24,785.68 631.97,799.23 632.71,785.68 633.45,750.19 634.18,785.68 634.92,799.23 635.65,785.68 636.39,750.19 637.12,785.68 637.86,799.23 638.60,785.68 639.33,750.19 640.07,785.68 640.80,799.23 641.54,785.68 642.27,750.19 643.01,785.68 643.75,799.23 644.48,785.68 645.22,750.19 645.95,785.68 646.69,799.23 647.42,785.68 648.16,750.19 648.89,785.68 649.63,799.23 650.37,785.68 651.10,750.19 651.84,785.68 652.57,799.23 653.31,785.68 654.04,750.19 654.78,785.68 655.52,799.23 656.25,785.68 656.99,750.19 657.72,785.68 658.46,799.23 659.19,785.68 659.93,750.19 660.67,785.68 661.40,799.23 662.14,785.68 662.87,750.19 663.61,785.68 664.34,799.23 665.08,785.68 665.82,750.19 666.55,785.68 667.29,799.23 668.02,785.68 668.76,750.19 669.49,785.68 670.23,799.23 670.96,785.68 671.70,750.19 672.44,785.68 673.17,799.23 673.91,785.68 674.64,750.19 675.38,785.68 676.11,799.23 676.85,785.68 677.59,750.19 678.32,785.68 679.06,799.23 679.79,785.68 680.53,750.19 681.26,785.68 682.00,799.23 682.74,785.68 683.47,750.19 684.21,785.68 684.94,799.23 685.68,785.68 686.41,750.19 687.15,785.68 687.88,799.23 688.62,785.68 689.36,750.19 690.09,785.68 690.83,799.23 691.56,785.68 692.30,750.19 693.03,785.68 693.77,799.23 694.51,785.68 695.24,750.19 695.98,785.68 696.71,799.23 697.45,785.68 698.18,750.19 698.92,785.68 699.66,799.23 700.39,785.68 701.13,750.19 701.86,785.68 702.60,799.23 703.33,785.68 704.07,750.19 704.81,785.68 705.54,799.23 706.28,785.68 707.01,750.19 707.75,785.68 708.48,799.23 709.22,785.68 709.96,750.19 710.69,785.68 711.43,799.23 712.16,785.68 712.90,750.19 713.63,785.68 714.37,799.23 715.10,785.68 715.84,750.19 716.58,785.68 717.31,799.23 718.05,785.68 718.78,750.19 719.52,785.68 720.25,799.23 720.99,785.68 721.73,750.19 722.46,785.68 723.20,799.23 723.93,785.68 724.67,750.19 725.40,785.68 726.14,799.23 726.88,785.68 727.61,750.19 728.35,785.68 729.08,799.23 729.82,785.68 730.55,750.19 731.29,785.68 732.03,799.23 732.76,785.68 733.50,750.19 734.23,785.68 734.97,799.23 735.70,785.68 736.44,750.19 737.17,785.68 737.91,799.23 738.65,785.68 739.38,750.19 740.12,785.68 740.85,799.23 741.59,785.68 742.32,750.19 743.06,785.68 743.80,799.23 744.53,785.68 745.27,750.19 746.00,785.68 746.74,799.23 747.47,785.68 748.21,750.19 748.95,785.68 749.68,799.23 750.42,785.68 751.15,750.19 751.89,785.68 752.62,799.23 753.36,785.68 754.10,750.19 754.83,785.68 755.57,799.23 756.30,785.68 757.04,750.19 757.77,785.68 758.51,799.23 759.24,785.68 759.98,750.19 760.72,785.68 761.45,799.23 762.19,785.68 762.92,750.19 763.66,785.68 764.39,799.23 765.13,785.68 765.87,750.19 766.60,785.68 767.34,799.23 768.07,785.68 768.81,750.19 769.54,785.68 770.28,799.23 771.02,785.68 771.75,750.19 772.49,785.68 773.22,799.23 773.96,785.68 774.69,750.19 775.43,785.68 776.17,799.23 776.90,785.68 777.64,750.19 778.37,785.68 779.11,799.23 779.84,785.68 780.58,750.19 781.31,785.68 782.05,799.23 782.79,785.68 783.52,750.19 784.26,785.68 784.99,799.23 785.73,785.68 786.46,750.19 787.20,785.68 787.94,799.23 788.67,785.68 789.41,750.19 790.14,785.68 790.88,799.23 791.61,785.68 792.35,750.19 793.09,785.68 793.82,799.23 794.56,785.68 795.29,750.19 796.03,785.68 796.76,799.23 797.50,785.68 798.24,750.19 798.97,785.68 799.71,799.23 800.44,785.68 801.18,750.19 801.91,785.68 802.65,799.23 803.38,785.68 804.12,750.19 804.86,785.68 805.59,799.23 806.33,785.68 807.06,750.19 807.80,785.68 808.53,799.23 809.27,785.68 810.01,750.19 810.74,785.68 811.48,799.23 812.21,785.68 812.95,750.19 813.68,785.68 814.42,799.23 815.16,785.68 815.89,750.19 816.63,785.68 817.36,799.23 818.10,785.68 818.83,750.19 819.57,785.68 820.31,799.23 821.04,785.68 821.78,750.19 822.51,785.68 823.25,799.23 823.98,785.68 824.72,750.19 825.45,785.68 826.19,799.23 826.93,785.68 827.66,750.19 828.40,785.68 829.13,799.23 829.87,785.68 830.60,750.19 831.34,785.68 832.08,799.23 832.81,785.68 833.55,750.19 834.28,785.68 835.02,799.23 835.75,785.68 836.49,750.19 837.23,785.68 837.96,799.23 838.70,785.68 839.43,750.19 840.17,785.68 840.90,793.53 841.64,730.41 842.38,687.60 843.11,730.41 843.85,793.53 844.58,730.41 845.32,687.60 846.05,730.41 846.79,793.53 847.52,730.41 848.26,687.60 849.00,730.41 849.73,793.53 850.47,730.41 851.20,687.60 851.94,730.41 852.67,793.53 853.41,730.41 854.15,687.60 854.88,730.41 855.62,793.53 856.35,730.41 857.09,687.60 857.82,730.41 858.56,793.53 859.30,730.41 860.03,687.60 860.77,730.41 861.50,793.53 862.24,730.41 862.97,687.60 863.71,730.41 864.45,793.53 865.18,730.41 865.92,687.60 866.65,730.41 867.39,793.53 868.12,730.41 868.86,687.60 869.59,730.41 870.33,793.53 871.07,730.41 871.80,687.60 872.54,730.41 873.27,793.53 874.01,730.41 874.74,687.60 875.48,730.41 876.22,793.53 876.95,730.41 877.69,687.60 878.42,730.41 879.16,793.53 879.89,730.41 880.63,687.60 881.37,730.41 882.10,793.53 882.84,730.41 883.57,687.60 884.31,730.41 885.04,793.53 885.78,730.41 886.52,687.60 887.25,730.41 887.99,793.53 888.72,730.41 889.46,687.60 890.19,730.41 890.93,793.53 891.66,730.41 892.40,687.60 893.14,730.41 893.87,793.53 894.61,730.41 895.34,687.60 896.08,730.41 896.81,793.53 897.55,730.41 898.29,687.60 899.02,730.41 899.76,793.53 900.49,730.41 901.23,687.60 901.96,730.41 902.70,793.53 903.44,730.41 904.17,687.60 904.91,730.41 905.64,793.53 906.38,730.41 907.11,687.60 907.85,730.41 908.59,793.53 909.32,730.41 910.06,687.60 910.79,730.41 911.53,793.53 912.26,730.41 913.00,687.60 913.73,730.41 914.47,793.53 915.21,730.41 915.94,687.60 916.68,730.41 917.41,793.53 918.15,730.41 918.88,687.60 919.62,730.41 920.36,793.53 921.09,730.41 921.83,687.60 922.56,730.41 923.30,793.53 924.03,730.41 924.77,687.60 925.51,730.41 926.24,793.53 926.98,730.41 927.71,687.60 928.45,730.41 929.18,793.53 929.92,730.41 930.66,687.60 931.39,730.41 932.13,793.53 932.86,730.41 933.60,687.60 934.33,730.41 935.07,793.53 935.80,730.41 936.54,687.60 937.28,730.41 938.01,793.53 938.75,730.41 939.48,687.60 940.22,730.41 940.95,793.53 941.69,730.41 942.43,687.60 943.16,730.41 943.90,793.53 944.63,730.41 945.37,687.60 946.10,730.41 946.84,793.53 947.58,730.41 948.31,687.60 949.05,730.41 949.78,793.53 950.52,730.41 951.25,687.60 951.99,730.41 952.73,793.53 953.46,730.41 954.20,687.60 954.93,730.41 955.67,793.53 956.40,730.41 957.14,687.60 957.87,730.41 958.61,793.53 959.35,730.41 960.08,687.60 960.82,730.41 961.55,793.53 962.29,730.41 963.02,687.60 963.76,730.41 964.50,793.53 965.23,730.41 965.97,687.60 966.70,730.41 967.44,793.53 968.17,730.41 968.91,687.60 969.65,730.41 970.38,793.53 971.12,730.41 971.85,687.60 972.59,730.41 973.32,793.53 974.06,730.41 974.80,687.60 975.53,730.41 976.27,793.53 977.00,730.41 977.74,687.60 978.47,730.41 979.21,793.53 979.94,730.41 980.68,687.60 981.42,730.41 982.15,793.53 982.89,730.41 983.62,687.60 984.36,730.41 985.09,793.53 985.83,730.41 986.57,687.60 987.30,730.41 988.04,793.53 988.77,730.41 989.51,687.60 990.24,730.41 990.98,793.53 991.72,730.41 992.45,687.60 993.19,730.41 993.92,793.53 994.66,730.41 995.39,687.60 996.13,730.41 996.87,793.53 997.60,730.41 998.34,687.60 999.07,730.41 999.81,793.53 1000.54,730.41 1001.28,687.60 1002.01,730.41 1002.75,793.53 1003.49,730.41 1004.22,687.60 1004.96,730.41 1005.69,793.53 1006.43,730.41 1007.16,687.60 1007.90,730.41 1008.64,793.53 1009.37,730.41 1010.11,687.60 1010.84,730.41 1011.58,793.53 1012.31,730.41 1013.05,687.60 1013.79,730.41 1014.52,793.53 1015.26,730.41 1015.99,687.60 1016.73,730.41 1017.46,793.53 1018.20,730.41 1018.94,687.60 1019.67,730.41 1020.41,799.23 1021.14,785.68 1021.88,750.19 1022.61,785.68 1023.35,799.23 1024.08,785.68 1024.82,750.19 1025.56,785.68 1026.29,799.23 1027.03,785.68 1027.76,750.19 1028.50,785.68 1029.23,799.23 1029.97,785.68 1030.71,750.19 1031.44,785.68 1032.18,799.23 1032.91,785.68 1033.65,750.19 1034.38,785.68 1035.12,799.23 1035.86,785.68 1036.59,750.19 1037.33,785.68 1038.06,799.23 1038.80,785.68 1039.53,750.19 1040.27,785.68 1041.01,799.23 1041.74,785.68 1042.48,750.19 1043.21,785.68 1043.95,799.23 1044.68,785.68 1045.42,750.19 1046.15,785.68 1046.89,799.23 1047.63,785.68 1048.36,750.19 1049.10,785.68 1049.83,799.23 1050.57,785.68 1051.30,750.19 1052.04,785.68 1052.78,799.23 1053.51,785.68 1054.25,750.19 1054.98,785.68 1055.72,799.23 1056.45,785.68 1057.19,750.19 1057.93,785.68 1058.66,799.23 1059.40,785.68 1060.13,750.19 1060.87,785.68 1061.60,799.23 1062.34,785.68 1063.08,750.19 1063.81,785.68 1064.55,799.23 1065.28,785.68 1066.02,750.19 1066.75,785.68 1067.49,799.23 1068.22,785.68 1068.96,750.19 1069.70,785.68 1070.43,799.23 1071.17,785.68 1071.90,750.19 1072.64,785.68 1073.37,799.23 1074.11,785.68 1074.85,750.19 1075.58,785.68 1076.32,799.23 1077.05,785.68 1077.79,750.19 1078.52,785.68 1079.26,799.23 1080.00,785.68 1080.73,750.19 1081.47,785.68 1082.20,799.23 1082.94,785.68 1083.67,750.19 1084.41,785.68 1085.14,799.23 1085.88,785.68 1086.62,750.19 1087.35,785.68 1088.09,799.23 1088.82,785.68 1089.56,750.19 1090.29,785.68 1091.03,799.23 1091.77,785.68 1092.50,750.19 1093.24,785.68 1093.97,799.23 1094.71,785.68 1095.44,750.19 1096.18,785.68 1096.92,799.23 1097.65,785.68 1098.39,750.19 1099.12,785.68 1099.86,799.23 1100.59,785.68 1101.33,750.19 1102.07,785.68 1102.80,799.23 1103.54,785.68 1104.27,750.19 1105.01,785.68 1105.74,799.23 1106.48,785.68 1107.21,750.19 1107.95,785.68 1108.69,799.23 1109.42,785.68 1110.16,750.19 1110.89,785.68 1111.63,799.23 1112.36,785.68 1113.10,750.19 1113.84,785.68 1114.57,799.23 1115.31,785.68 1116.04,750.19 1116.78,785.68 1117.51,799.23 1118.25,785.68 1118.99,750.19 1119.72,785.68 1120.46,799.23 1121.19,785.68 1121.93,750.19 1122.66,785.68 1123.40,799.23 1124.14,785.68 1124.87,750.19 1125.61,785.68 1126.34,799.23 1127.08,785.68 1127.81,750.19 1128.55,785.68 1129.29,799.23 1130.02,785.68 1130.76,750.19 1131.49,785.68 1132.23,799.23 1132.96,785.68 1133.70,750.19 1134.43,785.68 1135.17,799.23 1135.91,785.68 1136.64,750.19 1137.38,785.68 1138.11,799.23 1138.85,785.68 1139.58,750.19 1140.32,785.68 1141.06,799.23 1141.79,785.68 1142.53,750.19 1143.26,785.68 1144.00,799.23 1144.73,785.68 1145.47,750.19 1146.21,785.68 1146.94,799.23 1147.68,785.68 1148.41,750.19 1149.15,785.68 1149.88,799.23 1150.62,785.68 1151.36,750.19 1152.09,785.68 1152.83,799.23 1153.56,785.68 1154.30,750.19 1155.03,785.68 1155.77,799.23 1156.50,785.68 1157.24,750.19 1157.98,785.68 1158.71,799.23 1159.45,785.68 1160.18,750.19 1160.92,785.68 1161.65,799.23 1162.39,785.68 1163.13,750.19 1163.86,785.68 1164.60,799.23 1165.33,785.68 1166.07,750.19 1166.80,785.68 1167.54,799.23 1168.28,785.68 1169.01,750.19 1169.75,785.68 1170.48,799.23 1171.22,785.68 1171.95,750.19 1172.69,785.68 1173.42,799.23 1174.16,785.68 1174.90,750.19 1175.63,785.68 1176.37,799.23 1177.10,785.68 1177.84,750.19 1178.57,785.68 1179.31,799.23 1180.05,785.68 1180.78,750.19 1181.52,785.68 1182.25,799.23 1182.99,785.68 1183.72,750.19 1184.46,785.68 1185.20,799.23 1185.93,785.68 1186.67,750.19 1187.40,785.68 1188.14,799.23 1188.87,785.68 1189.61,750.19 1190.35,785.68 1191.08,799.23 1191.82,785.68 1192.55,750.19 1193.29,785.68 1194.02,799.23 1194.76,785.68 1195.49,750.19 1196.23,785.68 1196.97,799.23 1197.70,785.68 1198.44,750.19 1199.17,785.68"/></defs>
<use href="#rl" stroke="#ff0000" stroke-width="1.7" clip-path="url(#ca)"/>
<use href="#rl" stroke="#ff0000" stroke-width="1.0" clip-path="url(#cb)"/>
<use href="#bl" stroke="#0000ff" stroke-width="1.7" clip-path="url(#cl)"/>
<use href="#bl" stroke="#0000ff" stroke-width="1.35" clip-path="url(#ch)"/>
<g opacity="0.999">
<text transform="translate(124.10 964.20) scale(1 1.045)" class="t" font-size="33.6" fill="#262626" text-anchor="middle">0</text>
<text transform="translate(491.93 964.20) scale(1 1.045)" class="t" font-size="33.6" fill="#262626" text-anchor="middle">500</text>
<text transform="translate(859.77 964.20) scale(1 1.045)" class="t" font-size="33.6" fill="#262626" text-anchor="middle">1000</text>
<text transform="translate(1227.60 964.20) scale(1 1.045)" class="t" font-size="33.6" fill="#262626" text-anchor="middle">1500</text>
<text transform="translate(110.20 928.45) scale(1 1.045)" class="t" font-size="33.6" fill="#262626" text-anchor="end">0</text>
<text transform="translate(110.20 637.60) scale(1 1.045)" class="t" font-size="33.6" fill="#262626" text-anchor="end">5</text>
<text transform="translate(110.20 346.75) scale(1 1.045)" class="t" font-size="33.6" fill="#262626" text-anchor="end">10</text>
<text transform="translate(110.20 55.90) scale(1 1.045)" class="t" font-size="33.6" fill="#262626" text-anchor="end">15</text>
<text transform="translate(676.20 1012.20) scale(1 1.005)" class="t" font-size="36.8" fill="#262626" text-anchor="middle">Time (hours)</text>
<text transform="translate(52.90 477.80) rotate(-90) scale(1 1.005)" class="t" font-size="36.8" fill="#262626" text-anchor="middle">Energy (kWh)</text>
<path d="M435.1 105.4H537" stroke="#ff0000" stroke-width="2"/>
<path d="M435.1 149.3H537" stroke="#0000ff" stroke-width="2" stroke-dasharray="20.4 7.7 5.1 7.7"/>
<text transform="translate(544.60 120.00) scale(1 1.005)" class="t" font-size="33.6" fill="#000" text-anchor="start">Energy supply - Maroua</text>
<text transform="translate(544.60 163.80) scale(1 1.005)" class="t" font-size="33.6" fill="#000" text-anchor="start">Energy demand</text>
</g>
</svg>
</body></html>
